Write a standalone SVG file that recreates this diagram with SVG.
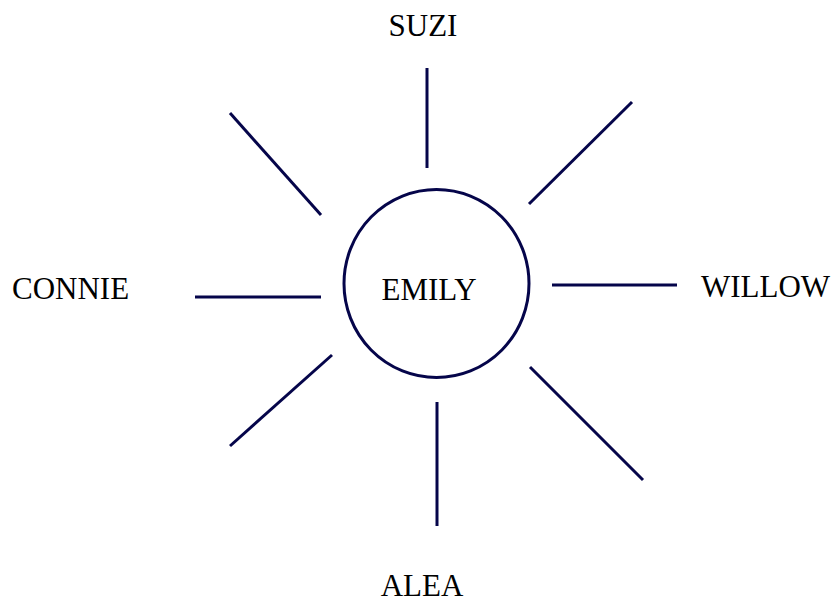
<svg xmlns="http://www.w3.org/2000/svg" width="832" height="604" viewBox="0 0 832 604">
<style>
.lbl{font-family:"Liberation Serif","Times New Roman",serif;font-size:31px;fill:#000}
.c{stroke:#05054a;stroke-width:3;fill:none}
</style>
<rect width="832" height="604" fill="#fff"/>
<g id="connectors">
<line class="c" x1="427" y1="68" x2="427" y2="168"/>
<line class="c" x1="230" y1="113" x2="321" y2="215"/>
<line class="c" x1="632" y1="102" x2="529" y2="204"/>
<line class="c" x1="332" y1="355" x2="230" y2="446"/>
<line class="c" x1="530" y1="367" x2="643" y2="480"/>
<line class="c" x1="437" y1="402" x2="437" y2="526"/>
<line class="c" x1="195" y1="297" x2="321" y2="297"/>
<line class="c" x1="552" y1="285" x2="677" y2="285"/>
</g>
<g id="emily">
<ellipse class="c" cx="436.5" cy="283.5" rx="92.5" ry="94"/>
<text class="lbl" x="429" y="300" text-anchor="middle">EMILY</text>
</g>
<g id="suzi"><text class="lbl" x="423" y="36" text-anchor="middle">SUZI</text></g>
<g id="connie"><text class="lbl" x="12" y="299">CONNIE</text></g>
<g id="willow"><text class="lbl" x="701" y="297">WILLOW</text></g>
<g id="alea"><text class="lbl" x="422" y="596" text-anchor="middle">ALEA</text></g>
</svg>
